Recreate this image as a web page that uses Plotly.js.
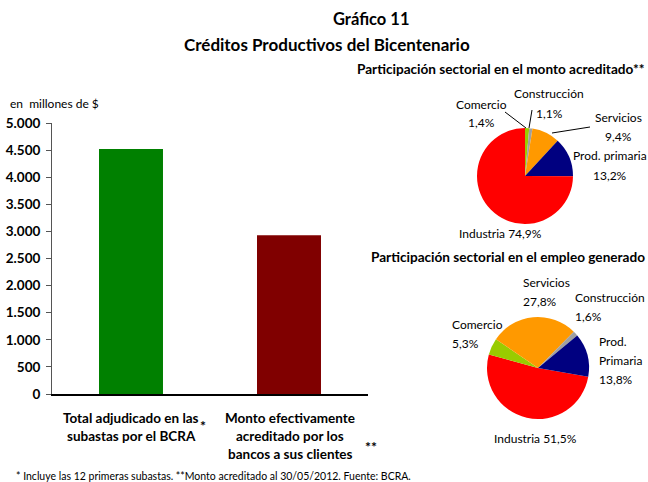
<!DOCTYPE html>
<html><head><meta charset="utf-8">
<script src="https://cdn.plot.ly/plotly-3.0.1.min.js"></script>
<style>html,body{margin:0;padding:0;background:#fff}#chart{width:648px;height:482px}</style>
</head><body><div id="chart"></div>
<script>
// ---- data ----
const barCategories = ['Total adjudicado en las<br>subastas por el BCRA', 'Monto efectivamente<br>acreditado por los<br>bancos a sus clientes'];
const barMarks = ['*', '**'];
const barValues = [4520, 2930];
const barColors = ['#008000', '#800000'];
const yTickVals = [0, 500, 1000, 1500, 2000, 2500, 3000, 3500, 4000, 4500, 5000];
const yTickText = ['0', '500', '1.000', '1.500', '2.000', '2.500', '3.000', '3.500', '4.000', '4.500', '5.000'];

const sectorsMonto = ['Comercio', 'Construcción', 'Servicios', 'Prod. primaria', 'Industria'];
const shareMonto = [1.4, 1.1, 9.4, 13.2, 74.9];
const sectorsEmpleo = ['Industria', 'Comercio', 'Servicios', 'Construcción', 'Prod. Primaria'];
const shareEmpleo = [51.5, 5.3, 27.8, 1.6, 13.8];

const sectorColors = {
  'Comercio': '#99CC00', 'Construcción': '#A0A0A0', 'Servicios': '#FF9900',
  'Prod. primaria': '#000080', 'Prod. Primaria': '#000080', 'Industria': '#FF0000'
};

// ---- helpers ----
const W = 648, H = 482;
const px = x => x / W;
const py = y => 1 - y / H;
const FONT = 'Lato, "Open Sans", sans-serif';
const fmt = v => v.toFixed(1).replace('.', ',') + '%';

const annotations = [];
function txt(text, x, y, anchor, size, bold) {
  annotations.push({
    text: bold ? '<b>' + text + '</b>' : text,
    xref: 'paper', yref: 'paper', x: px(x), y: py(y),
    xanchor: anchor, yanchor: 'middle', showarrow: false,
    font: {family: FONT, size: size, color: '#000'}
  });
}

// titles
txt('Gráfico 11', 371, 19, 'center', 16.5, true);
txt('Créditos Productivos del Bicentenario', 327, 44, 'center', 17, true);
txt('Participación sectorial en el monto acreditado**', 647, 69, 'right', 13.6, true);
txt('Participación sectorial en el empleo generado', 647, 257, 'right', 13.6, true);
txt('en  millones de $', 8, 103, 'left', 12, false);
txt('* Incluye las 12 primeras subastas. **Monto acreditado al 30/05/2012. Fuente: BCRA.', 14, 476, 'left', 10.5, false);

// bar category labels
const catLabelPos = [{x: 131, y0: 418, mx: 203, my: 425}, {x: 290, y0: 418, mx: 371, my: 446}];
barCategories.forEach((c, i) => {
  const lines = c.split('<br>');
  lines.forEach((ln, j) => txt(ln, catLabelPos[i].x, catLabelPos[i].y0 + j * 18, 'center', 13.5, true));
  txt(barMarks[i], catLabelPos[i].mx, catLabelPos[i].my, 'center', 14, true);
});

// pie labels
const montoPos = {
  'Comercio': {x: 481, y: 104, a: 'center'},
  'Construcción': {x: 549, y: 94, a: 'center'},
  'Servicios': {x: 618, y: 117, a: 'center'},
  'Prod. primaria': {x: 610, y: 156, a: 'center'},
  'Industria': {x: 500, y: 233, a: 'center', single: true}
};
const empleoPos = {
  'Servicios': {x: 521, y: 282, a: 'left'},
  'Construcción': {x: 573, y: 297, a: 'left'},
  'Comercio': {x: 450, y: 324, a: 'left'},
  'Prod. Primaria': {x: 597, y: 341, a: 'left', split: true},
  'Industria': {x: 492, y: 438, a: 'left', single: true}
};
function pieLabels(sectors, shares, pos) {
  sectors.forEach((s, i) => {
    const p = pos[s];
    if (p.single) { txt(s + ' ' + fmt(shares[i]), p.x, p.y, p.a, 12, false); return; }
    const lines = p.split ? s.split(' ') : [s];
    lines.push(fmt(shares[i]));
    lines.forEach((ln, j) => txt(ln, p.x, p.y + j * 19, p.a, 12, false));
  });
}
pieLabels(sectorsMonto, shareMonto, montoPos);
pieLabels(sectorsEmpleo, shareEmpleo, empleoPos);

// leader lines
const leaders = [[505, 112, 526, 128], [532, 110, 529, 128], [552, 133, 590, 127]];
const shapes = leaders.map(l => ({
  type: 'line', xref: 'paper', yref: 'paper',
  x0: px(l[0]), y0: py(l[1]), x1: px(l[2]), y1: py(l[3]),
  line: {color: '#000', width: 1}
}));

// ---- traces ----
const bar = {
  type: 'bar', x: barCategories, y: barValues,
  marker: {color: barColors, line: {width: 0}},
  xaxis: 'x', yaxis: 'y', hoverinfo: 'none'
};
const pie1 = {
  type: 'pie', labels: sectorsMonto, values: shareMonto,
  marker: {colors: sectorsMonto.map(s => sectorColors[s]), line: {width: 0}},
  sort: false, direction: 'clockwise', rotation: 0, textinfo: 'none',
  domain: {x: [px(477), px(573)], y: [py(224), py(128)]}, showlegend: false
};
const pie2 = {
  type: 'pie', labels: sectorsEmpleo, values: shareEmpleo,
  marker: {colors: sectorsEmpleo.map(s => sectorColors[s]), line: {width: 0}},
  sort: false, direction: 'clockwise', rotation: 100, textinfo: 'none',
  domain: {x: [px(487), px(589)], y: [py(419), py(317)]}, showlegend: false
};

const layout = {
  width: W, height: H, margin: {l: 0, r: 0, t: 0, b: 0},
  paper_bgcolor: '#fff', plot_bgcolor: '#fff', showlegend: false,
  font: {family: FONT, color: '#000'},
  bargap: 0.595,
  xaxis: {
    domain: [px(52), px(368)], anchor: 'y', type: 'category',
    showticklabels: false, ticks: '', showgrid: false, zeroline: false,
    showline: true, linecolor: '#000', linewidth: 1.5, fixedrange: true
  },
  yaxis: {
    domain: [py(394), py(123)], anchor: 'x', range: [0, 5000],
    tickvals: yTickVals, ticktext: yTickText,
    tickfont: {family: FONT, size: 13.5, color: '#000', weight: 'bold'},
    ticklabelstandoff: 3,
    ticks: 'outside', ticklen: 5, tickcolor: '#555', showgrid: false, zeroline: false,
    showline: true, linecolor: '#555', linewidth: 1, fixedrange: true
  },
  annotations: annotations, shapes: shapes
};

Plotly.newPlot('chart', [bar, pie1, pie2], layout, {staticPlot: true});
</script></body></html>
